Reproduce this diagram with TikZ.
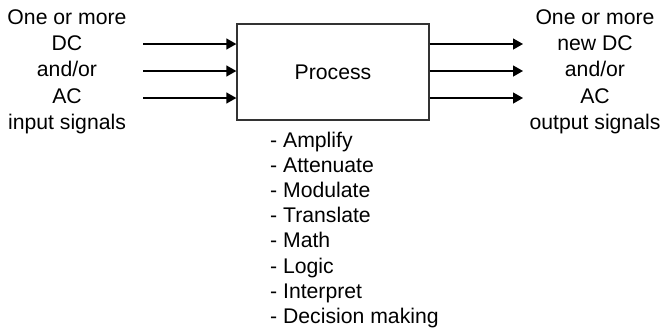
\documentclass[tikz,border=0pt]{standalone}
\usepackage{fontspec}
\setmainfont{Liberation Sans}
\usetikzlibrary{arrows.meta}
\begin{document}
\begin{tikzpicture}[x=1pt,y=-1pt,
  lbl/.style={inner sep=0pt, align=center, font=\fontsize{21.2}{26.3}\selectfont},
  sig/.style={line width=1.3pt, -{Triangle[length=10pt,width=11pt]}},
  procbox/.style={draw=black!80, line width=1.3pt, minimum width=192pt, minimum height=96pt, inner sep=0pt, font=\fontsize{21.2}{25}\selectfont}]
\useasboundingbox (0,0) rectangle (667,330);
\node[procbox] (p) at (333,72) {Process};
\node[lbl] (in) at (67,71.5) {One or more\\DC\\and/or\\AC\\input signals};
\node[lbl] (out) at (595,71.5) {One or more\\new DC\\and/or\\AC\\output signals};
\node[inner sep=0pt, align=left, anchor=north west, font=\fontsize{21.2}{25.1}\selectfont] (list) at (270,132) {- Amplify\\- Attenuate\\- Modulate\\- Translate\\- Math\\- Logic\\- Interpret\\- Decision making};
\coordinate (i1) at (143,44); \coordinate (i2) at (143,71); \coordinate (i3) at (143,98);
\coordinate (o1) at (523,44); \coordinate (o2) at (523,71); \coordinate (o3) at (523,98);
\draw[sig] (i1) -- (i1 -| p.west);
\draw[sig] (i2) -- (i2 -| p.west);
\draw[sig] (i3) -- (i3 -| p.west);
\draw[sig] (o1 -| p.east) -- (o1);
\draw[sig] (o2 -| p.east) -- (o2);
\draw[sig] (o3 -| p.east) -- (o3);
\end{tikzpicture}
\end{document}
